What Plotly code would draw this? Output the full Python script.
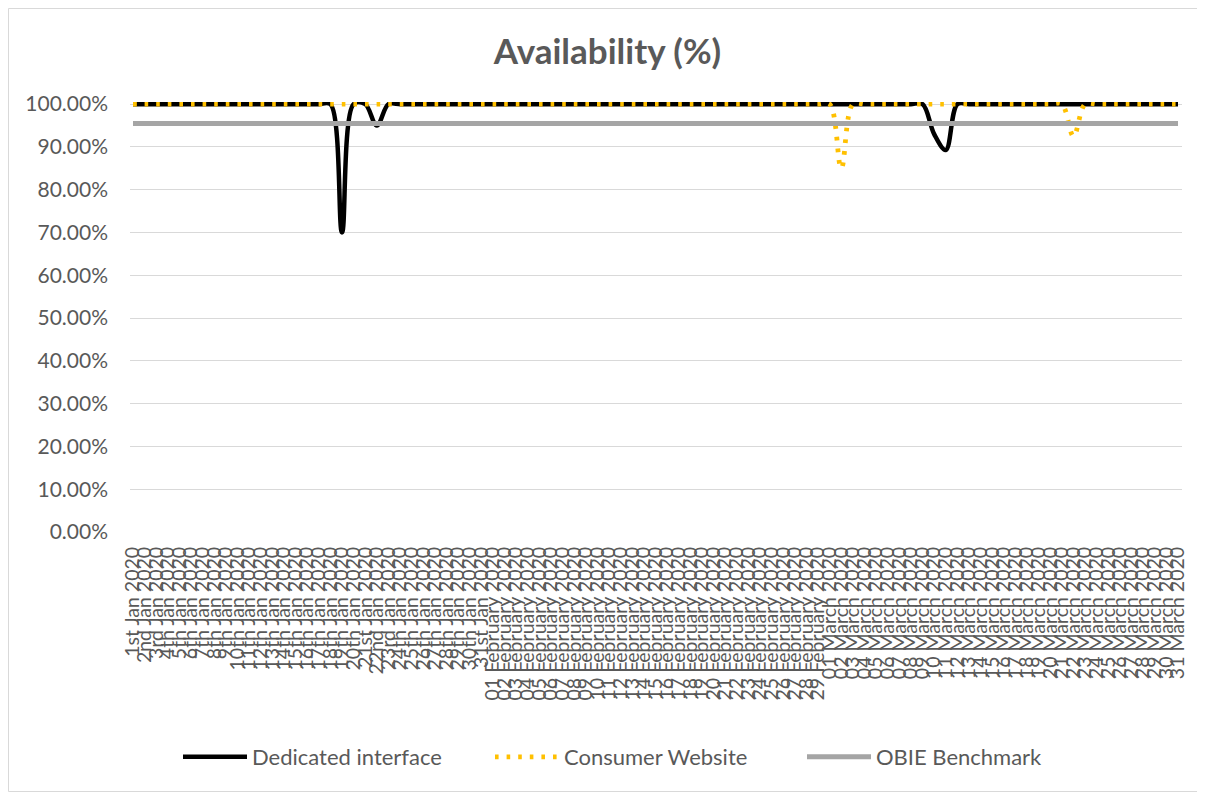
import plotly.graph_objects as go

def ordinal(n):
    if 10 <= n % 100 <= 20:
        suf = "th"
    else:
        suf = {1: "st", 2: "nd", 3: "rd"}.get(n % 10, "th")
    return f"{n}{suf}"

jan_labels = [f"{ordinal(d)} Jan 2020" for d in range(1, 32)]
feb_labels = [f"{d:02d} February 2020" for d in range(1, 30)]
mar_labels = [f"{d:02d} March 2020" for d in range(1, 32)]
categories = jan_labels + feb_labels + mar_labels

dedicated = [1.0] * 91
dedicated[18] = 0.70    # 19th Jan
dedicated[21] = 0.95    # 22nd Jan
dedicated[69] = 0.93    # 10 March
dedicated[70] = 0.893   # 11 March

consumer = [1.0] * 91
consumer[61] = 0.85     # 02 March
consumer[81] = 0.925    # 22 March

benchmark = [0.955] * 91

FONT = "Lato"
GREY = "#595959"

# page has an 8px body margin; compensate
OFF = 8
W, H = 1205 - OFF, 792 - OFF
ML, MR, MT, MB = 130 - OFF, 23, 102 - OFF, 260
PW, PH = W - ML - MR, H - MT - MB

fig = go.Figure()
fig.add_trace(go.Scatter(x=categories, y=dedicated, name="Dedicated interface",
                         mode="lines", line=dict(color="#000000", width=4.5, shape="spline", smoothing=1.0)))
fig.add_trace(go.Scatter(x=categories, y=consumer, name="Consumer Website",
                         mode="lines", line=dict(color="#FFC000", width=4.8, dash="3.6px,8px", shape="spline", smoothing=1.0)))
fig.add_trace(go.Scatter(x=categories, y=benchmark, name="OBIE Benchmark",
                         mode="lines", line=dict(color="#A5A5A5", width=5)))

fig.update_layout(
    width=W, height=H,
    margin=dict(l=ML, r=MR, t=MT, b=MB),
    paper_bgcolor="white", plot_bgcolor="white",
    font=dict(family=FONT, color=GREY),
    title=dict(text="<b>Availability (%)</b>", x=(607.5 - OFF) / W, xref="container", xanchor="center",
               y=1 - (52 - OFF) / H, yref="container", yanchor="middle",
               font=dict(family=FONT, size=35, color=GREY)),
    xaxis=dict(type="category", categoryorder="array", categoryarray=categories,
               range=[-0.258, 90.344], tickmode="array", tickvals=categories, ticktext=categories,
               tickangle=-90, tickfont=dict(family=FONT, size=19.5, color=GREY),
               showgrid=False, showline=False, zeroline=False, ticks="", ticklabelstandoff=10),
    yaxis=dict(range=[0, 1.005], tickvals=[i / 10 for i in range(11)], tickformat=".2%",
               tickfont=dict(family=FONT, size=21, color=GREY),
               showgrid=True, gridcolor="#D9D9D9", gridwidth=1.3, zeroline=False,
               showline=False, ticks="", ticklabelstandoff=21),
    legend=dict(orientation="h", x=(178 - OFF) / W, xref="container", xanchor="left",
                y=1 - (757 - OFF) / H, yref="container", yanchor="middle",
                font=dict(family=FONT, size=22, color=GREY), entrywidth=233, entrywidthmode="pixels",
                itemwidth=64),
    shapes=[dict(type="rect", xref="paper", yref="paper",
                 x0=-(ML - 0.5) / PW, x1=(W - ML - 0.5) / PW,
                 y0=-(MB - 0.5) / PH, y1=1 + (MT - 0.5) / PH,
                 line=dict(color="#D9D9D9", width=1), layer="below")],
)

fig.write_html("out.html")
